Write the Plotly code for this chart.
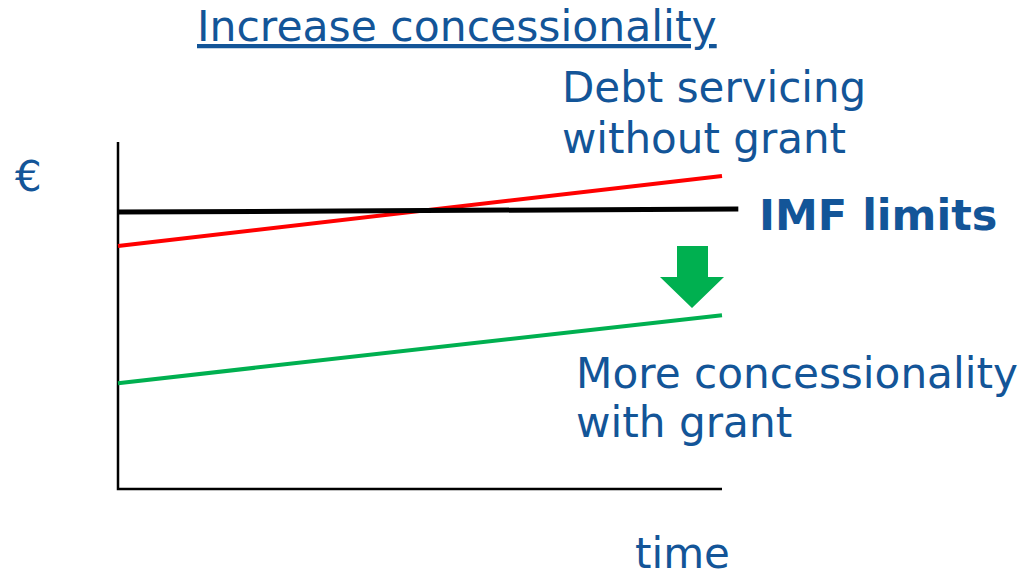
import plotly.graph_objects as go

# ---- data (schematic units) ----
time_pts = [0, 10]
imf_time = [0, 10.27]
imf_limits = [7.98, 8.07]
debt_without_grant = [7.0, 9.02]
debt_with_grant = [3.05, 5.01]
axis_max_time = 10
axis_max_value = 10

W, H = 1023, 573
BLUE = "#135598"
GREEN = "#00B050"
FONT = "DejaVu Sans, Verdana, sans-serif"

# pixel mapping for the plot (time 0 at x=118px, 60.4 px/unit; value 0 at y=489px, 34.7 px/unit)
x0_px, x_scale = 118, 60.4
y0_px, y_scale = 489, 34.7
x_range = [-x0_px / x_scale, (W - x0_px) / x_scale]
y_range = [-(H - y0_px) / y_scale, y0_px / y_scale]

fig = go.Figure()

# axes
fig.add_trace(go.Scatter(x=[0, 0, axis_max_time], y=[axis_max_value, 0, 0], mode="lines",
                         line=dict(color="black", width=2.5), hoverinfo="skip"))
# series
fig.add_trace(go.Scatter(x=time_pts, y=debt_without_grant, mode="lines",
                         line=dict(color="#FF0000", width=4), hoverinfo="skip"))
fig.add_trace(go.Scatter(x=time_pts, y=debt_with_grant, mode="lines",
                         line=dict(color=GREEN, width=4), hoverinfo="skip"))
fig.add_trace(go.Scatter(x=imf_time, y=imf_limits, mode="lines",
                         line=dict(color="black", width=5), hoverinfo="skip"))

# green down arrow (data coords)
def px_to_x(px):
    return (px - x0_px) / x_scale

def px_to_y(py):
    return (y0_px - py) / y_scale

arrow_pts = [(677, 246), (708, 246), (708, 277), (724, 277), (692, 308), (660, 277), (677, 277)]
path = "M " + " L ".join(f"{px_to_x(a):.4f},{px_to_y(b):.4f}" for a, b in arrow_pts) + " Z"
fig.add_shape(type="path", path=path, xref="x", yref="y", fillcolor=GREEN,
              line=dict(width=0))

def ann(text, xpx, ypx, size=42, bold=False):
    fig.add_annotation(text=f"<b>{text}</b>" if bold else text,
                       x=xpx / W, y=1 - ypx / H, xref="paper", yref="paper",
                       xanchor="left", yanchor="middle", showarrow=False,
                       font=dict(family=FONT, size=size, color=BLUE))

ann("<u>Increase concessionality</u>", 195, 27, size=42.5)
ann("Debt servicing", 560, 88)
ann("without grant", 560, 138)
ann("IMF limits", 757, 215, size=43, bold=True)
ann("More concessionality", 574, 373, size=42.2)
ann("with grant", 574, 423, size=42.2)
ann("€", 13, 177)
ann("time", 633, 553)

fig.update_layout(
    width=W, height=H, margin=dict(l=0, r=0, t=0, b=0),
    paper_bgcolor="white", plot_bgcolor="white", showlegend=False,
    xaxis=dict(range=x_range, visible=False, fixedrange=True),
    yaxis=dict(range=y_range, visible=False, fixedrange=True),
)

fig.write_html("out.html", config={"displayModeBar": False},
               post_script="document.body.style.margin='0';document.body.style.overflow='hidden';")
